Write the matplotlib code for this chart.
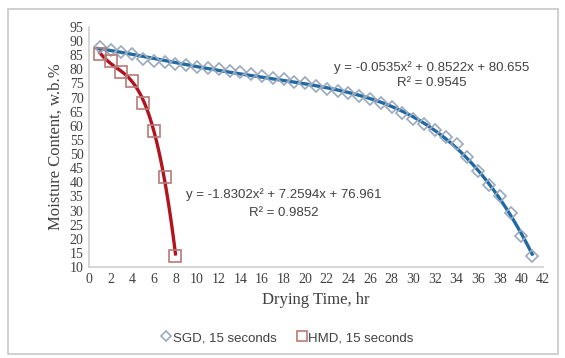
import numpy as np
import matplotlib
matplotlib.use("Agg")
from matplotlib import pyplot as plt
from matplotlib.patches import Rectangle

# drying data
sgd_time = list(range(1, 42))
sgd_mc = [88, 87, 86, 85.5, 83.5, 83, 82.5, 82, 81.5, 81,
          80.5, 80, 79.5, 79, 78.5, 77.5, 77, 76.5, 75.5, 75,
          74, 73, 72.5, 71.5, 70.5, 69.5, 68, 66.5, 64.5, 62.5,
          60.5, 58.5, 56, 53.5, 49, 44, 39, 35, 29, 21, 14]
hmd_time = [1, 2, 3, 4, 5, 6, 7, 8]
hmd_mc = [85.5, 83, 79, 76, 68, 58, 42, 14]

sgd_eq = "y = -0.0535x² + 0.8522x + 80.655"
sgd_r2 = "R² = 0.9545"
hmd_eq = "y = -1.8302x² + 7.2594x + 76.961"
hmd_r2 = "R² = 0.9852"

fig = plt.figure(figsize=(5.65, 3.58), dpi=100)
fig.patches.append(Rectangle((8/565, 4/358), 550/565, 345/358, transform=fig.transFigure,
                             fill=False, edgecolor="#c8c8c8", linewidth=1.2))
ax = fig.add_axes([89/565, 91/358, 454/565, 240/358])

# trendlines (fitted from the points)
xs = np.linspace(0.8, 41, 200)
p_sgd = np.polyfit(sgd_time, sgd_mc, 4)
ax.plot(xs, np.polyval(p_sgd, xs), color="#1f6aa5", lw=2.4, zorder=2)
xh = np.linspace(1, 8, 100)
p_hmd = np.polyfit(hmd_time, hmd_mc, 3)
ax.plot(xh, np.polyval(p_hmd, xh), color="#b3121f", lw=2.4, zorder=2)

ax.plot(sgd_time, sgd_mc, ls="none", marker="D", ms=6, mfc="none",
        mec="#9aa9bd", mew=1.2, label="SGD, 15 seconds", zorder=3)
ax.plot(hmd_time, hmd_mc, ls="none", marker="s", ms=8.5, mfc="none",
        mec="#b87a78", mew=1.2, label="HMD, 15 seconds", zorder=3)

ax.set_xlim(0, 42)
ax.set_ylim(10, 95)
ax.set_xticks(range(0, 43, 2))
ax.set_yticks(range(10, 96, 5))
ax.tick_params(length=0, labelsize=10, colors="#404040", pad=4)
for lab in ax.get_xticklabels() + ax.get_yticklabels():
    lab.set_family("Liberation Serif")
for s in ["top", "right"]:
    ax.spines[s].set_visible(False)
for s in ["left", "bottom"]:
    ax.spines[s].set_color("#d0d0d0")
    ax.spines[s].set_linewidth(1.2)
ax.set_xlabel("Drying Time, hr", family="Liberation Serif", fontsize=12, color="#404040", labelpad=5)
ax.set_ylabel("Moisture Content, w.b.%", family="Liberation Serif", fontsize=12, color="#404040", labelpad=4)

txt = dict(ha="center", va="center", fontsize=9.5, color="#404040", family="Liberation Sans")
ax.text(31.7, 80.8, sgd_eq, **txt)
ax.text(31.7, 75.2, sgd_r2, **txt)
ax.text(18, 35.5, hmd_eq, **txt)
ax.text(18, 29.1, hmd_r2, **txt)

fig.legend(loc="center", bbox_to_anchor=(0.51, 0.056), ncol=2, frameon=False,
           prop={"family": "Liberation Sans", "size": 9.5}, handlelength=0.6,
           handletextpad=0.2, columnspacing=1.6, labelcolor="#404040", markerscale=0.8)

fig.savefig("out.png", dpi=100)
